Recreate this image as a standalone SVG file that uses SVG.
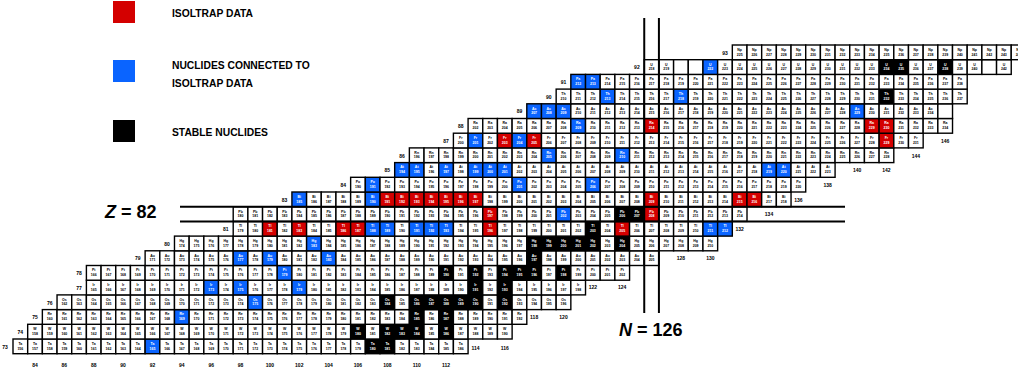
<svg xmlns="http://www.w3.org/2000/svg" width="1018" height="372" viewBox="0 0 1018 372">
<style>
.cells rect{x:-7.34px;width:14.68px;height:14.7px;fill:#fff;stroke:#000;stroke-width:1.4px}
.cells text{font-family:"Liberation Sans",Arial,sans-serif;font-weight:bold;font-size:3.5px;text-anchor:middle;fill:#000}
.cells .r rect{fill:#d40000}
.cells .b rect{fill:#0a64ff}
.cells .k rect{fill:#000}
.cells .r text,.cells .b text,.cells .k text{fill:#fff}
.lbl text{font-family:"Liberation Sans",Arial,sans-serif;font-weight:bold;font-size:5px;text-anchor:middle;fill:#000}
.leg text{font-family:"Liberation Sans",Arial,sans-serif;font-weight:bold;font-size:10.3px;fill:#000}
.big{font-family:"Liberation Sans",Arial,sans-serif;font-weight:bold;font-size:18px;fill:#000}
.magic line{stroke:#000;stroke-width:2}
</style>
<rect width="1018" height="372" fill="#fff"/>
<g id="legend" class="leg">
<rect x="113" y="1" width="22" height="22" fill="#d40000"/>
<text x="172" y="17">ISOLTRAP DATA</text>
<rect x="113" y="60" width="22" height="22" fill="#0a64ff"/>
<text x="172" y="69">NUCLIDES CONNECTED TO</text>
<text x="172" y="87">ISOLTRAP DATA</text>
<rect x="113" y="120" width="22" height="22" fill="#000"/>
<text x="172" y="136">STABLE NUCLIDES</text>
</g>
<g id="chart" class="cells">
<g id="z73" transform="translate(0,339)">
<g transform="translate(20.34)"><rect/><text y="5.9">Ta</text><text y="10.6">156</text></g>
<g transform="translate(35.02)"><rect/><text y="5.9">Ta</text><text y="10.6">157</text></g>
<g transform="translate(49.70)"><rect/><text y="5.9">Ta</text><text y="10.6">158</text></g>
<g transform="translate(64.38)"><rect/><text y="5.9">Ta</text><text y="10.6">159</text></g>
<g transform="translate(79.06)"><rect/><text y="5.9">Ta</text><text y="10.6">160</text></g>
<g transform="translate(93.74)"><rect/><text y="5.9">Ta</text><text y="10.6">161</text></g>
<g transform="translate(108.42)"><rect/><text y="5.9">Ta</text><text y="10.6">162</text></g>
<g transform="translate(123.10)"><rect/><text y="5.9">Ta</text><text y="10.6">163</text></g>
<g transform="translate(137.78)"><rect/><text y="5.9">Ta</text><text y="10.6">164</text></g>
<g class="b" transform="translate(152.46)"><rect/><text y="5.9">Ta</text><text y="10.6">165</text></g>
<g transform="translate(167.14)"><rect/><text y="5.9">Ta</text><text y="10.6">166</text></g>
<g transform="translate(181.82)"><rect/><text y="5.9">Ta</text><text y="10.6">167</text></g>
<g transform="translate(196.50)"><rect/><text y="5.9">Ta</text><text y="10.6">168</text></g>
<g transform="translate(211.18)"><rect/><text y="5.9">Ta</text><text y="10.6">169</text></g>
<g transform="translate(225.86)"><rect/><text y="5.9">Ta</text><text y="10.6">170</text></g>
<g transform="translate(240.54)"><rect/><text y="5.9">Ta</text><text y="10.6">171</text></g>
<g transform="translate(255.22)"><rect/><text y="5.9">Ta</text><text y="10.6">172</text></g>
<g transform="translate(269.90)"><rect/><text y="5.9">Ta</text><text y="10.6">173</text></g>
<g transform="translate(284.58)"><rect/><text y="5.9">Ta</text><text y="10.6">174</text></g>
<g transform="translate(299.26)"><rect/><text y="5.9">Ta</text><text y="10.6">175</text></g>
<g transform="translate(313.94)"><rect/><text y="5.9">Ta</text><text y="10.6">176</text></g>
<g transform="translate(328.62)"><rect/><text y="5.9">Ta</text><text y="10.6">177</text></g>
<g transform="translate(343.30)"><rect/><text y="5.9">Ta</text><text y="10.6">178</text></g>
<g transform="translate(357.98)"><rect/><text y="5.9">Ta</text><text y="10.6">179</text></g>
<g class="k" transform="translate(372.66)"><rect/><text y="5.9">Ta</text><text y="10.6">180</text></g>
<g class="k" transform="translate(387.34)"><rect/><text y="5.9">Ta</text><text y="10.6">181</text></g>
<g transform="translate(402.02)"><rect/><text y="5.9">Ta</text><text y="10.6">182</text></g>
<g transform="translate(416.70)"><rect/><text y="5.9">Ta</text><text y="10.6">183</text></g>
<g transform="translate(431.38)"><rect/><text y="5.9">Ta</text><text y="10.6">184</text></g>
<g transform="translate(446.06)"><rect/><text y="5.9">Ta</text><text y="10.6">185</text></g>
<g transform="translate(460.74)"><rect/><text y="5.9">Ta</text><text y="10.6">186</text></g>
</g>
<g id="z74" transform="translate(0,324.3)">
<g transform="translate(35.02)"><rect/><text y="5.9">W</text><text y="10.6">158</text></g>
<g transform="translate(49.70)"><rect/><text y="5.9">W</text><text y="10.6">159</text></g>
<g transform="translate(64.38)"><rect/><text y="5.9">W</text><text y="10.6">160</text></g>
<g transform="translate(79.06)"><rect/><text y="5.9">W</text><text y="10.6">161</text></g>
<g transform="translate(93.74)"><rect/><text y="5.9">W</text><text y="10.6">162</text></g>
<g transform="translate(108.42)"><rect/><text y="5.9">W</text><text y="10.6">163</text></g>
<g transform="translate(123.10)"><rect/><text y="5.9">W</text><text y="10.6">164</text></g>
<g transform="translate(137.78)"><rect/><text y="5.9">W</text><text y="10.6">165</text></g>
<g transform="translate(152.46)"><rect/><text y="5.9">W</text><text y="10.6">166</text></g>
<g transform="translate(167.14)"><rect/><text y="5.9">W</text><text y="10.6">167</text></g>
<g transform="translate(181.82)"><rect/><text y="5.9">W</text><text y="10.6">168</text></g>
<g transform="translate(196.50)"><rect/><text y="5.9">W</text><text y="10.6">169</text></g>
<g transform="translate(211.18)"><rect/><text y="5.9">W</text><text y="10.6">170</text></g>
<g transform="translate(225.86)"><rect/><text y="5.9">W</text><text y="10.6">171</text></g>
<g transform="translate(240.54)"><rect/><text y="5.9">W</text><text y="10.6">172</text></g>
<g transform="translate(255.22)"><rect/><text y="5.9">W</text><text y="10.6">173</text></g>
<g transform="translate(269.90)"><rect/><text y="5.9">W</text><text y="10.6">174</text></g>
<g transform="translate(284.58)"><rect/><text y="5.9">W</text><text y="10.6">175</text></g>
<g transform="translate(299.26)"><rect/><text y="5.9">W</text><text y="10.6">176</text></g>
<g transform="translate(313.94)"><rect/><text y="5.9">W</text><text y="10.6">177</text></g>
<g transform="translate(328.62)"><rect/><text y="5.9">W</text><text y="10.6">178</text></g>
<g transform="translate(343.30)"><rect/><text y="5.9">W</text><text y="10.6">179</text></g>
<g class="k" transform="translate(357.98)"><rect/><text y="5.9">W</text><text y="10.6">180</text></g>
<g transform="translate(372.66)"><rect/><text y="5.9">W</text><text y="10.6">181</text></g>
<g class="k" transform="translate(387.34)"><rect/><text y="5.9">W</text><text y="10.6">182</text></g>
<g class="k" transform="translate(402.02)"><rect/><text y="5.9">W</text><text y="10.6">183</text></g>
<g class="k" transform="translate(416.70)"><rect/><text y="5.9">W</text><text y="10.6">184</text></g>
<g transform="translate(431.38)"><rect/><text y="5.9">W</text><text y="10.6">185</text></g>
<g class="k" transform="translate(446.06)"><rect/><text y="5.9">W</text><text y="10.6">186</text></g>
<g transform="translate(460.74)"><rect/><text y="5.9">W</text><text y="10.6">187</text></g>
<g transform="translate(475.42)"><rect/><text y="5.9">W</text><text y="10.6">188</text></g>
<g transform="translate(490.10)"><rect/><text y="5.9">W</text><text y="10.6">189</text></g>
<g transform="translate(504.78)"><rect/><text y="5.9">W</text><text y="10.6">190</text></g>
</g>
<g id="z75" transform="translate(0,309.6)">
<g transform="translate(49.70)"><rect/><text y="5.9">Re</text><text y="10.6">160</text></g>
<g transform="translate(64.38)"><rect/><text y="5.9">Re</text><text y="10.6">161</text></g>
<g transform="translate(79.06)"><rect/><text y="5.9">Re</text><text y="10.6">162</text></g>
<g transform="translate(93.74)"><rect/><text y="5.9">Re</text><text y="10.6">163</text></g>
<g transform="translate(108.42)"><rect/><text y="5.9">Re</text><text y="10.6">164</text></g>
<g transform="translate(123.10)"><rect/><text y="5.9">Re</text><text y="10.6">165</text></g>
<g transform="translate(137.78)"><rect/><text y="5.9">Re</text><text y="10.6">166</text></g>
<g transform="translate(152.46)"><rect/><text y="5.9">Re</text><text y="10.6">167</text></g>
<g transform="translate(167.14)"><rect/><text y="5.9">Re</text><text y="10.6">168</text></g>
<g class="b" transform="translate(181.82)"><rect/><text y="5.9">Re</text><text y="10.6">169</text></g>
<g transform="translate(196.50)"><rect/><text y="5.9">Re</text><text y="10.6">170</text></g>
<g transform="translate(211.18)"><rect/><text y="5.9">Re</text><text y="10.6">171</text></g>
<g transform="translate(225.86)"><rect/><text y="5.9">Re</text><text y="10.6">172</text></g>
<g transform="translate(240.54)"><rect/><text y="5.9">Re</text><text y="10.6">173</text></g>
<g transform="translate(255.22)"><rect/><text y="5.9">Re</text><text y="10.6">174</text></g>
<g transform="translate(269.90)"><rect/><text y="5.9">Re</text><text y="10.6">175</text></g>
<g transform="translate(284.58)"><rect/><text y="5.9">Re</text><text y="10.6">176</text></g>
<g transform="translate(299.26)"><rect/><text y="5.9">Re</text><text y="10.6">177</text></g>
<g transform="translate(313.94)"><rect/><text y="5.9">Re</text><text y="10.6">178</text></g>
<g transform="translate(328.62)"><rect/><text y="5.9">Re</text><text y="10.6">179</text></g>
<g transform="translate(343.30)"><rect/><text y="5.9">Re</text><text y="10.6">180</text></g>
<g transform="translate(357.98)"><rect/><text y="5.9">Re</text><text y="10.6">181</text></g>
<g transform="translate(372.66)"><rect/><text y="5.9">Re</text><text y="10.6">182</text></g>
<g transform="translate(387.34)"><rect/><text y="5.9">Re</text><text y="10.6">183</text></g>
<g transform="translate(402.02)"><rect/><text y="5.9">Re</text><text y="10.6">184</text></g>
<g class="k" transform="translate(416.70)"><rect/><text y="5.9">Re</text><text y="10.6">185</text></g>
<g transform="translate(431.38)"><rect/><text y="5.9">Re</text><text y="10.6">186</text></g>
<g class="k" transform="translate(446.06)"><rect/><text y="5.9">Re</text><text y="10.6">187</text></g>
<g transform="translate(460.74)"><rect/><text y="5.9">Re</text><text y="10.6">188</text></g>
<g transform="translate(475.42)"><rect/><text y="5.9">Re</text><text y="10.6">189</text></g>
<g transform="translate(490.10)"><rect/><text y="5.9">Re</text><text y="10.6">190</text></g>
<g transform="translate(504.78)"><rect/><text y="5.9">Re</text><text y="10.6">191</text></g>
<g transform="translate(519.46)"><rect/><text y="5.9">Re</text><text y="10.6">192</text></g>
</g>
<g id="z76" transform="translate(0,294.9)">
<g transform="translate(64.38)"><rect/><text y="5.9">Os</text><text y="10.6">162</text></g>
<g transform="translate(79.06)"><rect/><text y="5.9">Os</text><text y="10.6">163</text></g>
<g transform="translate(93.74)"><rect/><text y="5.9">Os</text><text y="10.6">164</text></g>
<g transform="translate(108.42)"><rect/><text y="5.9">Os</text><text y="10.6">165</text></g>
<g transform="translate(123.10)"><rect/><text y="5.9">Os</text><text y="10.6">166</text></g>
<g transform="translate(137.78)"><rect/><text y="5.9">Os</text><text y="10.6">167</text></g>
<g transform="translate(152.46)"><rect/><text y="5.9">Os</text><text y="10.6">168</text></g>
<g transform="translate(167.14)"><rect/><text y="5.9">Os</text><text y="10.6">169</text></g>
<g transform="translate(181.82)"><rect/><text y="5.9">Os</text><text y="10.6">170</text></g>
<g transform="translate(196.50)"><rect/><text y="5.9">Os</text><text y="10.6">171</text></g>
<g transform="translate(211.18)"><rect/><text y="5.9">Os</text><text y="10.6">172</text></g>
<g transform="translate(225.86)"><rect/><text y="5.9">Os</text><text y="10.6">173</text></g>
<g transform="translate(240.54)"><rect/><text y="5.9">Os</text><text y="10.6">174</text></g>
<g class="b" transform="translate(255.22)"><rect/><text y="5.9">Os</text><text y="10.6">175</text></g>
<g transform="translate(269.90)"><rect/><text y="5.9">Os</text><text y="10.6">176</text></g>
<g transform="translate(284.58)"><rect/><text y="5.9">Os</text><text y="10.6">177</text></g>
<g transform="translate(299.26)"><rect/><text y="5.9">Os</text><text y="10.6">178</text></g>
<g transform="translate(313.94)"><rect/><text y="5.9">Os</text><text y="10.6">179</text></g>
<g transform="translate(328.62)"><rect/><text y="5.9">Os</text><text y="10.6">180</text></g>
<g transform="translate(343.30)"><rect/><text y="5.9">Os</text><text y="10.6">181</text></g>
<g transform="translate(357.98)"><rect/><text y="5.9">Os</text><text y="10.6">182</text></g>
<g transform="translate(372.66)"><rect/><text y="5.9">Os</text><text y="10.6">183</text></g>
<g class="k" transform="translate(387.34)"><rect/><text y="5.9">Os</text><text y="10.6">184</text></g>
<g transform="translate(402.02)"><rect/><text y="5.9">Os</text><text y="10.6">185</text></g>
<g class="k" transform="translate(416.70)"><rect/><text y="5.9">Os</text><text y="10.6">186</text></g>
<g class="k" transform="translate(431.38)"><rect/><text y="5.9">Os</text><text y="10.6">187</text></g>
<g class="k" transform="translate(446.06)"><rect/><text y="5.9">Os</text><text y="10.6">188</text></g>
<g class="k" transform="translate(460.74)"><rect/><text y="5.9">Os</text><text y="10.6">189</text></g>
<g class="k" transform="translate(475.42)"><rect/><text y="5.9">Os</text><text y="10.6">190</text></g>
<g transform="translate(490.10)"><rect/><text y="5.9">Os</text><text y="10.6">191</text></g>
<g class="k" transform="translate(504.78)"><rect/><text y="5.9">Os</text><text y="10.6">192</text></g>
<g transform="translate(519.46)"><rect/><text y="5.9">Os</text><text y="10.6">193</text></g>
<g transform="translate(534.14)"><rect/><text y="5.9">Os</text><text y="10.6">194</text></g>
<g transform="translate(548.82)"><rect/><text y="5.9">Os</text><text y="10.6">195</text></g>
<g transform="translate(563.50)"><rect/><text y="5.9">Os</text><text y="10.6">196</text></g>
</g>
<g id="z77" transform="translate(0,280.2)">
<g transform="translate(93.74)"><rect/><text y="5.9">Ir</text><text y="10.6">165</text></g>
<g transform="translate(108.42)"><rect/><text y="5.9">Ir</text><text y="10.6">166</text></g>
<g transform="translate(123.10)"><rect/><text y="5.9">Ir</text><text y="10.6">167</text></g>
<g transform="translate(137.78)"><rect/><text y="5.9">Ir</text><text y="10.6">168</text></g>
<g transform="translate(152.46)"><rect/><text y="5.9">Ir</text><text y="10.6">169</text></g>
<g transform="translate(167.14)"><rect/><text y="5.9">Ir</text><text y="10.6">170</text></g>
<g transform="translate(181.82)"><rect/><text y="5.9">Ir</text><text y="10.6">171</text></g>
<g transform="translate(196.50)"><rect/><text y="5.9">Ir</text><text y="10.6">172</text></g>
<g class="b" transform="translate(211.18)"><rect/><text y="5.9">Ir</text><text y="10.6">173</text></g>
<g transform="translate(225.86)"><rect/><text y="5.9">Ir</text><text y="10.6">174</text></g>
<g class="b" transform="translate(240.54)"><rect/><text y="5.9">Ir</text><text y="10.6">175</text></g>
<g transform="translate(255.22)"><rect/><text y="5.9">Ir</text><text y="10.6">176</text></g>
<g transform="translate(269.90)"><rect/><text y="5.9">Ir</text><text y="10.6">177</text></g>
<g transform="translate(284.58)"><rect/><text y="5.9">Ir</text><text y="10.6">178</text></g>
<g class="b" transform="translate(299.26)"><rect/><text y="5.9">Ir</text><text y="10.6">179</text></g>
<g transform="translate(313.94)"><rect/><text y="5.9">Ir</text><text y="10.6">180</text></g>
<g transform="translate(328.62)"><rect/><text y="5.9">Ir</text><text y="10.6">181</text></g>
<g transform="translate(343.30)"><rect/><text y="5.9">Ir</text><text y="10.6">182</text></g>
<g transform="translate(357.98)"><rect/><text y="5.9">Ir</text><text y="10.6">183</text></g>
<g transform="translate(372.66)"><rect/><text y="5.9">Ir</text><text y="10.6">184</text></g>
<g transform="translate(387.34)"><rect/><text y="5.9">Ir</text><text y="10.6">185</text></g>
<g transform="translate(402.02)"><rect/><text y="5.9">Ir</text><text y="10.6">186</text></g>
<g transform="translate(416.70)"><rect/><text y="5.9">Ir</text><text y="10.6">187</text></g>
<g transform="translate(431.38)"><rect/><text y="5.9">Ir</text><text y="10.6">188</text></g>
<g transform="translate(446.06)"><rect/><text y="5.9">Ir</text><text y="10.6">189</text></g>
<g transform="translate(460.74)"><rect/><text y="5.9">Ir</text><text y="10.6">190</text></g>
<g class="k" transform="translate(475.42)"><rect/><text y="5.9">Ir</text><text y="10.6">191</text></g>
<g transform="translate(490.10)"><rect/><text y="5.9">Ir</text><text y="10.6">192</text></g>
<g class="k" transform="translate(504.78)"><rect/><text y="5.9">Ir</text><text y="10.6">193</text></g>
<g transform="translate(519.46)"><rect/><text y="5.9">Ir</text><text y="10.6">194</text></g>
<g transform="translate(534.14)"><rect/><text y="5.9">Ir</text><text y="10.6">195</text></g>
<g transform="translate(548.82)"><rect/><text y="5.9">Ir</text><text y="10.6">196</text></g>
<g transform="translate(563.50)"><rect/><text y="5.9">Ir</text><text y="10.6">197</text></g>
<g transform="translate(578.18)"><rect/><text y="5.9">Ir</text><text y="10.6">198</text></g>
</g>
<g id="z78" transform="translate(0,265.5)">
<g transform="translate(93.74)"><rect/><text y="5.9">Pt</text><text y="10.6">166</text></g>
<g transform="translate(108.42)"><rect/><text y="5.9">Pt</text><text y="10.6">167</text></g>
<g transform="translate(123.10)"><rect/><text y="5.9">Pt</text><text y="10.6">168</text></g>
<g transform="translate(137.78)"><rect/><text y="5.9">Pt</text><text y="10.6">169</text></g>
<g transform="translate(152.46)"><rect/><text y="5.9">Pt</text><text y="10.6">170</text></g>
<g transform="translate(167.14)"><rect/><text y="5.9">Pt</text><text y="10.6">171</text></g>
<g transform="translate(181.82)"><rect/><text y="5.9">Pt</text><text y="10.6">172</text></g>
<g transform="translate(196.50)"><rect/><text y="5.9">Pt</text><text y="10.6">173</text></g>
<g transform="translate(211.18)"><rect/><text y="5.9">Pt</text><text y="10.6">174</text></g>
<g transform="translate(225.86)"><rect/><text y="5.9">Pt</text><text y="10.6">175</text></g>
<g transform="translate(240.54)"><rect/><text y="5.9">Pt</text><text y="10.6">176</text></g>
<g transform="translate(255.22)"><rect/><text y="5.9">Pt</text><text y="10.6">177</text></g>
<g transform="translate(269.90)"><rect/><text y="5.9">Pt</text><text y="10.6">178</text></g>
<g class="b" transform="translate(284.58)"><rect/><text y="5.9">Pt</text><text y="10.6">179</text></g>
<g transform="translate(299.26)"><rect/><text y="5.9">Pt</text><text y="10.6">180</text></g>
<g transform="translate(313.94)"><rect/><text y="5.9">Pt</text><text y="10.6">181</text></g>
<g transform="translate(328.62)"><rect/><text y="5.9">Pt</text><text y="10.6">182</text></g>
<g transform="translate(343.30)"><rect/><text y="5.9">Pt</text><text y="10.6">183</text></g>
<g transform="translate(357.98)"><rect/><text y="5.9">Pt</text><text y="10.6">184</text></g>
<g transform="translate(372.66)"><rect/><text y="5.9">Pt</text><text y="10.6">185</text></g>
<g transform="translate(387.34)"><rect/><text y="5.9">Pt</text><text y="10.6">186</text></g>
<g transform="translate(402.02)"><rect/><text y="5.9">Pt</text><text y="10.6">187</text></g>
<g transform="translate(416.70)"><rect/><text y="5.9">Pt</text><text y="10.6">188</text></g>
<g transform="translate(431.38)"><rect/><text y="5.9">Pt</text><text y="10.6">189</text></g>
<g class="k" transform="translate(446.06)"><rect/><text y="5.9">Pt</text><text y="10.6">190</text></g>
<g transform="translate(460.74)"><rect/><text y="5.9">Pt</text><text y="10.6">191</text></g>
<g class="k" transform="translate(475.42)"><rect/><text y="5.9">Pt</text><text y="10.6">192</text></g>
<g transform="translate(490.10)"><rect/><text y="5.9">Pt</text><text y="10.6">193</text></g>
<g class="k" transform="translate(504.78)"><rect/><text y="5.9">Pt</text><text y="10.6">194</text></g>
<g class="k" transform="translate(519.46)"><rect/><text y="5.9">Pt</text><text y="10.6">195</text></g>
<g class="k" transform="translate(534.14)"><rect/><text y="5.9">Pt</text><text y="10.6">196</text></g>
<g transform="translate(548.82)"><rect/><text y="5.9">Pt</text><text y="10.6">197</text></g>
<g class="k" transform="translate(563.50)"><rect/><text y="5.9">Pt</text><text y="10.6">198</text></g>
<g transform="translate(578.18)"><rect/><text y="5.9">Pt</text><text y="10.6">199</text></g>
<g transform="translate(592.86)"><rect/><text y="5.9">Pt</text><text y="10.6">200</text></g>
<g transform="translate(607.54)"><rect/><text y="5.9">Pt</text><text y="10.6">201</text></g>
<g transform="translate(622.22)"><rect/><text y="5.9">Pt</text><text y="10.6">202</text></g>
</g>
<g id="z79" transform="translate(0,250.8)">
<g transform="translate(152.46)"><rect/><text y="5.9">Au</text><text y="10.6">171</text></g>
<g transform="translate(167.14)"><rect/><text y="5.9">Au</text><text y="10.6">172</text></g>
<g transform="translate(181.82)"><rect/><text y="5.9">Au</text><text y="10.6">173</text></g>
<g transform="translate(196.50)"><rect/><text y="5.9">Au</text><text y="10.6">174</text></g>
<g transform="translate(211.18)"><rect/><text y="5.9">Au</text><text y="10.6">175</text></g>
<g transform="translate(225.86)"><rect/><text y="5.9">Au</text><text y="10.6">176</text></g>
<g class="b" transform="translate(240.54)"><rect/><text y="5.9">Au</text><text y="10.6">177</text></g>
<g transform="translate(255.22)"><rect/><text y="5.9">Au</text><text y="10.6">178</text></g>
<g class="b" transform="translate(269.90)"><rect/><text y="5.9">Au</text><text y="10.6">179</text></g>
<g transform="translate(284.58)"><rect/><text y="5.9">Au</text><text y="10.6">180</text></g>
<g transform="translate(299.26)"><rect/><text y="5.9">Au</text><text y="10.6">181</text></g>
<g transform="translate(313.94)"><rect/><text y="5.9">Au</text><text y="10.6">182</text></g>
<g class="b" transform="translate(328.62)"><rect/><text y="5.9">Au</text><text y="10.6">183</text></g>
<g transform="translate(343.30)"><rect/><text y="5.9">Au</text><text y="10.6">184</text></g>
<g transform="translate(357.98)"><rect/><text y="5.9">Au</text><text y="10.6">185</text></g>
<g transform="translate(372.66)"><rect/><text y="5.9">Au</text><text y="10.6">186</text></g>
<g transform="translate(387.34)"><rect/><text y="5.9">Au</text><text y="10.6">187</text></g>
<g transform="translate(402.02)"><rect/><text y="5.9">Au</text><text y="10.6">188</text></g>
<g transform="translate(416.70)"><rect/><text y="5.9">Au</text><text y="10.6">189</text></g>
<g transform="translate(431.38)"><rect/><text y="5.9">Au</text><text y="10.6">190</text></g>
<g transform="translate(446.06)"><rect/><text y="5.9">Au</text><text y="10.6">191</text></g>
<g transform="translate(460.74)"><rect/><text y="5.9">Au</text><text y="10.6">192</text></g>
<g transform="translate(475.42)"><rect/><text y="5.9">Au</text><text y="10.6">193</text></g>
<g transform="translate(490.10)"><rect/><text y="5.9">Au</text><text y="10.6">194</text></g>
<g transform="translate(504.78)"><rect/><text y="5.9">Au</text><text y="10.6">195</text></g>
<g transform="translate(519.46)"><rect/><text y="5.9">Au</text><text y="10.6">196</text></g>
<g class="k" transform="translate(534.14)"><rect/><text y="5.9">Au</text><text y="10.6">197</text></g>
<g transform="translate(548.82)"><rect/><text y="5.9">Au</text><text y="10.6">198</text></g>
<g transform="translate(563.50)"><rect/><text y="5.9">Au</text><text y="10.6">199</text></g>
<g transform="translate(578.18)"><rect/><text y="5.9">Au</text><text y="10.6">200</text></g>
<g transform="translate(592.86)"><rect/><text y="5.9">Au</text><text y="10.6">201</text></g>
<g transform="translate(607.54)"><rect/><text y="5.9">Au</text><text y="10.6">202</text></g>
<g transform="translate(622.22)"><rect/><text y="5.9">Au</text><text y="10.6">203</text></g>
<g transform="translate(636.90)"><rect/><text y="5.9">Au</text><text y="10.6">204</text></g>
<g transform="translate(651.58)"><rect/><text y="5.9">Au</text><text y="10.6">205</text></g>
</g>
<g id="z80" transform="translate(0,236.1)">
<g transform="translate(181.82)"><rect/><text y="5.9">Hg</text><text y="10.6">174</text></g>
<g transform="translate(196.50)"><rect/><text y="5.9">Hg</text><text y="10.6">175</text></g>
<g transform="translate(211.18)"><rect/><text y="5.9">Hg</text><text y="10.6">176</text></g>
<g transform="translate(225.86)"><rect/><text y="5.9">Hg</text><text y="10.6">177</text></g>
<g transform="translate(240.54)"><rect/><text y="5.9">Hg</text><text y="10.6">178</text></g>
<g transform="translate(255.22)"><rect/><text y="5.9">Hg</text><text y="10.6">179</text></g>
<g transform="translate(269.90)"><rect/><text y="5.9">Hg</text><text y="10.6">180</text></g>
<g transform="translate(284.58)"><rect/><text y="5.9">Hg</text><text y="10.6">181</text></g>
<g transform="translate(299.26)"><rect/><text y="5.9">Hg</text><text y="10.6">182</text></g>
<g class="b" transform="translate(313.94)"><rect/><text y="5.9">Hg</text><text y="10.6">183</text></g>
<g transform="translate(328.62)"><rect/><text y="5.9">Hg</text><text y="10.6">184</text></g>
<g transform="translate(343.30)"><rect/><text y="5.9">Hg</text><text y="10.6">185</text></g>
<g transform="translate(357.98)"><rect/><text y="5.9">Hg</text><text y="10.6">186</text></g>
<g transform="translate(372.66)"><rect/><text y="5.9">Hg</text><text y="10.6">187</text></g>
<g transform="translate(387.34)"><rect/><text y="5.9">Hg</text><text y="10.6">188</text></g>
<g transform="translate(402.02)"><rect/><text y="5.9">Hg</text><text y="10.6">189</text></g>
<g transform="translate(416.70)"><rect/><text y="5.9">Hg</text><text y="10.6">190</text></g>
<g transform="translate(431.38)"><rect/><text y="5.9">Hg</text><text y="10.6">191</text></g>
<g transform="translate(446.06)"><rect/><text y="5.9">Hg</text><text y="10.6">192</text></g>
<g transform="translate(460.74)"><rect/><text y="5.9">Hg</text><text y="10.6">193</text></g>
<g transform="translate(475.42)"><rect/><text y="5.9">Hg</text><text y="10.6">194</text></g>
<g transform="translate(490.10)"><rect/><text y="5.9">Hg</text><text y="10.6">195</text></g>
<g transform="translate(504.78)"><rect/><text y="5.9">Hg</text><text y="10.6">196</text></g>
<g transform="translate(519.46)"><rect/><text y="5.9">Hg</text><text y="10.6">197</text></g>
<g class="k" transform="translate(534.14)"><rect/><text y="5.9">Hg</text><text y="10.6">198</text></g>
<g class="k" transform="translate(548.82)"><rect/><text y="5.9">Hg</text><text y="10.6">199</text></g>
<g class="k" transform="translate(563.50)"><rect/><text y="5.9">Hg</text><text y="10.6">200</text></g>
<g class="k" transform="translate(578.18)"><rect/><text y="5.9">Hg</text><text y="10.6">201</text></g>
<g class="k" transform="translate(592.86)"><rect/><text y="5.9">Hg</text><text y="10.6">202</text></g>
<g transform="translate(607.54)"><rect/><text y="5.9">Hg</text><text y="10.6">203</text></g>
<g class="k" transform="translate(622.22)"><rect/><text y="5.9">Hg</text><text y="10.6">204</text></g>
<g transform="translate(636.90)"><rect/><text y="5.9">Hg</text><text y="10.6">205</text></g>
<g transform="translate(651.58)"><rect/><text y="5.9">Hg</text><text y="10.6">206</text></g>
<g transform="translate(666.26)"><rect/><text y="5.9">Hg</text><text y="10.6">207</text></g>
<g transform="translate(680.94)"><rect/><text y="5.9">Hg</text><text y="10.6">208</text></g>
<g transform="translate(695.62)"><rect/><text y="5.9">Hg</text><text y="10.6">209</text></g>
<g transform="translate(710.30)"><rect/><text y="5.9">Hg</text><text y="10.6">210</text></g>
</g>
<g id="z81" transform="translate(0,221.4)">
<g transform="translate(240.54)"><rect/><text y="5.9">Tl</text><text y="10.6">179</text></g>
<g transform="translate(255.22)"><rect/><text y="5.9">Tl</text><text y="10.6">180</text></g>
<g class="r" transform="translate(269.90)"><rect/><text y="5.9">Tl</text><text y="10.6">181</text></g>
<g transform="translate(284.58)"><rect/><text y="5.9">Tl</text><text y="10.6">182</text></g>
<g class="r" transform="translate(299.26)"><rect/><text y="5.9">Tl</text><text y="10.6">183</text></g>
<g transform="translate(313.94)"><rect/><text y="5.9">Tl</text><text y="10.6">184</text></g>
<g transform="translate(328.62)"><rect/><text y="5.9">Tl</text><text y="10.6">185</text></g>
<g class="r" transform="translate(343.30)"><rect/><text y="5.9">Tl</text><text y="10.6">186</text></g>
<g class="r" transform="translate(357.98)"><rect/><text y="5.9">Tl</text><text y="10.6">187</text></g>
<g class="b" transform="translate(372.66)"><rect/><text y="5.9">Tl</text><text y="10.6">188</text></g>
<g class="b" transform="translate(387.34)"><rect/><text y="5.9">Tl</text><text y="10.6">189</text></g>
<g transform="translate(402.02)"><rect/><text y="5.9">Tl</text><text y="10.6">190</text></g>
<g class="b" transform="translate(416.70)"><rect/><text y="5.9">Tl</text><text y="10.6">191</text></g>
<g class="b" transform="translate(431.38)"><rect/><text y="5.9">Tl</text><text y="10.6">192</text></g>
<g class="b" transform="translate(446.06)"><rect/><text y="5.9">Tl</text><text y="10.6">193</text></g>
<g transform="translate(460.74)"><rect/><text y="5.9">Tl</text><text y="10.6">194</text></g>
<g transform="translate(475.42)"><rect/><text y="5.9">Tl</text><text y="10.6">195</text></g>
<g class="r" transform="translate(490.10)"><rect/><text y="5.9">Tl</text><text y="10.6">196</text></g>
<g transform="translate(504.78)"><rect/><text y="5.9">Tl</text><text y="10.6">197</text></g>
<g transform="translate(519.46)"><rect/><text y="5.9">Tl</text><text y="10.6">198</text></g>
<g transform="translate(534.14)"><rect/><text y="5.9">Tl</text><text y="10.6">199</text></g>
<g transform="translate(548.82)"><rect/><text y="5.9">Tl</text><text y="10.6">200</text></g>
<g transform="translate(563.50)"><rect/><text y="5.9">Tl</text><text y="10.6">201</text></g>
<g transform="translate(578.18)"><rect/><text y="5.9">Tl</text><text y="10.6">202</text></g>
<g class="k" transform="translate(592.86)"><rect/><text y="5.9">Tl</text><text y="10.6">203</text></g>
<g transform="translate(607.54)"><rect/><text y="5.9">Tl</text><text y="10.6">204</text></g>
<g class="r" transform="translate(622.22)"><rect/><text y="5.9">Tl</text><text y="10.6">205</text></g>
<g transform="translate(636.90)"><rect/><text y="5.9">Tl</text><text y="10.6">206</text></g>
<g transform="translate(651.58)"><rect/><text y="5.9">Tl</text><text y="10.6">207</text></g>
<g transform="translate(666.26)"><rect/><text y="5.9">Tl</text><text y="10.6">208</text></g>
<g transform="translate(680.94)"><rect/><text y="5.9">Tl</text><text y="10.6">209</text></g>
<g transform="translate(695.62)"><rect/><text y="5.9">Tl</text><text y="10.6">210</text></g>
<g class="b" transform="translate(710.30)"><rect/><text y="5.9">Tl</text><text y="10.6">211</text></g>
<g class="b" transform="translate(724.98)"><rect/><text y="5.9">Tl</text><text y="10.6">212</text></g>
</g>
<g id="z82" transform="translate(0,206.7)">
<g transform="translate(240.54)"><rect/><text y="5.9">Pb</text><text y="10.6">180</text></g>
<g transform="translate(255.22)"><rect/><text y="5.9">Pb</text><text y="10.6">181</text></g>
<g transform="translate(269.90)"><rect/><text y="5.9">Pb</text><text y="10.6">182</text></g>
<g transform="translate(284.58)"><rect/><text y="5.9">Pb</text><text y="10.6">183</text></g>
<g transform="translate(299.26)"><rect/><text y="5.9">Pb</text><text y="10.6">184</text></g>
<g transform="translate(313.94)"><rect/><text y="5.9">Pb</text><text y="10.6">185</text></g>
<g transform="translate(328.62)"><rect/><text y="5.9">Pb</text><text y="10.6">186</text></g>
<g transform="translate(343.30)"><rect/><text y="5.9">Pb</text><text y="10.6">187</text></g>
<g transform="translate(357.98)"><rect/><text y="5.9">Pb</text><text y="10.6">188</text></g>
<g transform="translate(372.66)"><rect/><text y="5.9">Pb</text><text y="10.6">189</text></g>
<g transform="translate(387.34)"><rect/><text y="5.9">Pb</text><text y="10.6">190</text></g>
<g transform="translate(402.02)"><rect/><text y="5.9">Pb</text><text y="10.6">191</text></g>
<g transform="translate(416.70)"><rect/><text y="5.9">Pb</text><text y="10.6">192</text></g>
<g transform="translate(431.38)"><rect/><text y="5.9">Pb</text><text y="10.6">193</text></g>
<g transform="translate(446.06)"><rect/><text y="5.9">Pb</text><text y="10.6">194</text></g>
<g transform="translate(460.74)"><rect/><text y="5.9">Pb</text><text y="10.6">195</text></g>
<g transform="translate(475.42)"><rect/><text y="5.9">Pb</text><text y="10.6">196</text></g>
<g class="r" transform="translate(490.10)"><rect/><text y="5.9">Pb</text><text y="10.6">197</text></g>
<g transform="translate(504.78)"><rect/><text y="5.9">Pb</text><text y="10.6">198</text></g>
<g transform="translate(519.46)"><rect/><text y="5.9">Pb</text><text y="10.6">199</text></g>
<g transform="translate(534.14)"><rect/><text y="5.9">Pb</text><text y="10.6">200</text></g>
<g transform="translate(548.82)"><rect/><text y="5.9">Pb</text><text y="10.6">201</text></g>
<g class="b" transform="translate(563.50)"><rect/><text y="5.9">Pb</text><text y="10.6">202</text></g>
<g transform="translate(578.18)"><rect/><text y="5.9">Pb</text><text y="10.6">203</text></g>
<g transform="translate(592.86)"><rect/><text y="5.9">Pb</text><text y="10.6">204</text></g>
<g transform="translate(607.54)"><rect/><text y="5.9">Pb</text><text y="10.6">205</text></g>
<g class="k" transform="translate(622.22)"><rect/><text y="5.9">Pb</text><text y="10.6">206</text></g>
<g class="k" transform="translate(636.90)"><rect/><text y="5.9">Pb</text><text y="10.6">207</text></g>
<g class="r" transform="translate(651.58)"><rect/><text y="5.9">Pb</text><text y="10.6">208</text></g>
<g transform="translate(666.26)"><rect/><text y="5.9">Pb</text><text y="10.6">209</text></g>
<g transform="translate(680.94)"><rect/><text y="5.9">Pb</text><text y="10.6">210</text></g>
<g transform="translate(695.62)"><rect/><text y="5.9">Pb</text><text y="10.6">211</text></g>
<g transform="translate(710.30)"><rect/><text y="5.9">Pb</text><text y="10.6">212</text></g>
<g transform="translate(724.98)"><rect/><text y="5.9">Pb</text><text y="10.6">213</text></g>
<g transform="translate(739.66)"><rect/><text y="5.9">Pb</text><text y="10.6">214</text></g>
</g>
<g id="z83" transform="translate(0,192)">
<g class="b" transform="translate(299.26)"><rect/><text y="5.9">Bi</text><text y="10.6">185</text></g>
<g transform="translate(313.94)"><rect/><text y="5.9">Bi</text><text y="10.6">186</text></g>
<g transform="translate(328.62)"><rect/><text y="5.9">Bi</text><text y="10.6">187</text></g>
<g transform="translate(343.30)"><rect/><text y="5.9">Bi</text><text y="10.6">188</text></g>
<g transform="translate(357.98)"><rect/><text y="5.9">Bi</text><text y="10.6">189</text></g>
<g class="b" transform="translate(372.66)"><rect/><text y="5.9">Bi</text><text y="10.6">190</text></g>
<g class="r" transform="translate(387.34)"><rect/><text y="5.9">Bi</text><text y="10.6">191</text></g>
<g class="r" transform="translate(402.02)"><rect/><text y="5.9">Bi</text><text y="10.6">192</text></g>
<g class="r" transform="translate(416.70)"><rect/><text y="5.9">Bi</text><text y="10.6">193</text></g>
<g class="r" transform="translate(431.38)"><rect/><text y="5.9">Bi</text><text y="10.6">194</text></g>
<g class="r" transform="translate(446.06)"><rect/><text y="5.9">Bi</text><text y="10.6">195</text></g>
<g class="r" transform="translate(460.74)"><rect/><text y="5.9">Bi</text><text y="10.6">196</text></g>
<g class="r" transform="translate(475.42)"><rect/><text y="5.9">Bi</text><text y="10.6">197</text></g>
<g transform="translate(490.10)"><rect/><text y="5.9">Bi</text><text y="10.6">198</text></g>
<g transform="translate(504.78)"><rect/><text y="5.9">Bi</text><text y="10.6">199</text></g>
<g transform="translate(519.46)"><rect/><text y="5.9">Bi</text><text y="10.6">200</text></g>
<g transform="translate(534.14)"><rect/><text y="5.9">Bi</text><text y="10.6">201</text></g>
<g transform="translate(548.82)"><rect/><text y="5.9">Bi</text><text y="10.6">202</text></g>
<g transform="translate(563.50)"><rect/><text y="5.9">Bi</text><text y="10.6">203</text></g>
<g transform="translate(578.18)"><rect/><text y="5.9">Bi</text><text y="10.6">204</text></g>
<g transform="translate(592.86)"><rect/><text y="5.9">Bi</text><text y="10.6">205</text></g>
<g transform="translate(607.54)"><rect/><text y="5.9">Bi</text><text y="10.6">206</text></g>
<g transform="translate(622.22)"><rect/><text y="5.9">Bi</text><text y="10.6">207</text></g>
<g transform="translate(636.90)"><rect/><text y="5.9">Bi</text><text y="10.6">208</text></g>
<g class="r" transform="translate(651.58)"><rect/><text y="5.9">Bi</text><text y="10.6">209</text></g>
<g transform="translate(666.26)"><rect/><text y="5.9">Bi</text><text y="10.6">210</text></g>
<g transform="translate(680.94)"><rect/><text y="5.9">Bi</text><text y="10.6">211</text></g>
<g transform="translate(695.62)"><rect/><text y="5.9">Bi</text><text y="10.6">212</text></g>
<g transform="translate(710.30)"><rect/><text y="5.9">Bi</text><text y="10.6">213</text></g>
<g transform="translate(724.98)"><rect/><text y="5.9">Bi</text><text y="10.6">214</text></g>
<g class="r" transform="translate(739.66)"><rect/><text y="5.9">Bi</text><text y="10.6">215</text></g>
<g class="r" transform="translate(754.34)"><rect/><text y="5.9">Bi</text><text y="10.6">216</text></g>
<g transform="translate(769.02)"><rect/><text y="5.9">Bi</text><text y="10.6">217</text></g>
<g transform="translate(783.70)"><rect/><text y="5.9">Bi</text><text y="10.6">218</text></g>
</g>
<g id="z84" transform="translate(0,177.3)">
<g transform="translate(357.98)"><rect/><text y="5.9">Po</text><text y="10.6">190</text></g>
<g class="b" transform="translate(372.66)"><rect/><text y="5.9">Po</text><text y="10.6">191</text></g>
<g transform="translate(387.34)"><rect/><text y="5.9">Po</text><text y="10.6">192</text></g>
<g transform="translate(402.02)"><rect/><text y="5.9">Po</text><text y="10.6">193</text></g>
<g transform="translate(416.70)"><rect/><text y="5.9">Po</text><text y="10.6">194</text></g>
<g transform="translate(431.38)"><rect/><text y="5.9">Po</text><text y="10.6">195</text></g>
<g transform="translate(446.06)"><rect/><text y="5.9">Po</text><text y="10.6">196</text></g>
<g transform="translate(460.74)"><rect/><text y="5.9">Po</text><text y="10.6">197</text></g>
<g transform="translate(475.42)"><rect/><text y="5.9">Po</text><text y="10.6">198</text></g>
<g transform="translate(490.10)"><rect/><text y="5.9">Po</text><text y="10.6">199</text></g>
<g transform="translate(504.78)"><rect/><text y="5.9">Po</text><text y="10.6">200</text></g>
<g class="b" transform="translate(519.46)"><rect/><text y="5.9">Po</text><text y="10.6">201</text></g>
<g transform="translate(534.14)"><rect/><text y="5.9">Po</text><text y="10.6">202</text></g>
<g transform="translate(548.82)"><rect/><text y="5.9">Po</text><text y="10.6">203</text></g>
<g transform="translate(563.50)"><rect/><text y="5.9">Po</text><text y="10.6">204</text></g>
<g transform="translate(578.18)"><rect/><text y="5.9">Po</text><text y="10.6">205</text></g>
<g class="b" transform="translate(592.86)"><rect/><text y="5.9">Po</text><text y="10.6">206</text></g>
<g transform="translate(607.54)"><rect/><text y="5.9">Po</text><text y="10.6">207</text></g>
<g transform="translate(622.22)"><rect/><text y="5.9">Po</text><text y="10.6">208</text></g>
<g transform="translate(636.90)"><rect/><text y="5.9">Po</text><text y="10.6">209</text></g>
<g transform="translate(651.58)"><rect/><text y="5.9">Po</text><text y="10.6">210</text></g>
<g transform="translate(666.26)"><rect/><text y="5.9">Po</text><text y="10.6">211</text></g>
<g transform="translate(680.94)"><rect/><text y="5.9">Po</text><text y="10.6">212</text></g>
<g transform="translate(695.62)"><rect/><text y="5.9">Po</text><text y="10.6">213</text></g>
<g transform="translate(710.30)"><rect/><text y="5.9">Po</text><text y="10.6">214</text></g>
<g transform="translate(724.98)"><rect/><text y="5.9">Po</text><text y="10.6">215</text></g>
<g transform="translate(739.66)"><rect/><text y="5.9">Po</text><text y="10.6">216</text></g>
<g transform="translate(754.34)"><rect/><text y="5.9">Po</text><text y="10.6">217</text></g>
<g transform="translate(769.02)"><rect/><text y="5.9">Po</text><text y="10.6">218</text></g>
<g transform="translate(783.70)"><rect/><text y="5.9">Po</text><text y="10.6">219</text></g>
<g transform="translate(798.38)"><rect/><text y="5.9">Po</text><text y="10.6">220</text></g>
</g>
<g id="z85" transform="translate(0,162.6)">
<g class="b" transform="translate(402.02)"><rect/><text y="5.9">At</text><text y="10.6">194</text></g>
<g class="b" transform="translate(416.70)"><rect/><text y="5.9">At</text><text y="10.6">195</text></g>
<g transform="translate(431.38)"><rect/><text y="5.9">At</text><text y="10.6">196</text></g>
<g class="b" transform="translate(446.06)"><rect/><text y="5.9">At</text><text y="10.6">197</text></g>
<g transform="translate(460.74)"><rect/><text y="5.9">At</text><text y="10.6">198</text></g>
<g class="b" transform="translate(475.42)"><rect/><text y="5.9">At</text><text y="10.6">199</text></g>
<g class="b" transform="translate(490.10)"><rect/><text y="5.9">At</text><text y="10.6">200</text></g>
<g class="b" transform="translate(504.78)"><rect/><text y="5.9">At</text><text y="10.6">201</text></g>
<g transform="translate(519.46)"><rect/><text y="5.9">At</text><text y="10.6">202</text></g>
<g transform="translate(534.14)"><rect/><text y="5.9">At</text><text y="10.6">203</text></g>
<g transform="translate(548.82)"><rect/><text y="5.9">At</text><text y="10.6">204</text></g>
<g transform="translate(563.50)"><rect/><text y="5.9">At</text><text y="10.6">205</text></g>
<g transform="translate(578.18)"><rect/><text y="5.9">At</text><text y="10.6">206</text></g>
<g transform="translate(592.86)"><rect/><text y="5.9">At</text><text y="10.6">207</text></g>
<g transform="translate(607.54)"><rect/><text y="5.9">At</text><text y="10.6">208</text></g>
<g transform="translate(622.22)"><rect/><text y="5.9">At</text><text y="10.6">209</text></g>
<g transform="translate(636.90)"><rect/><text y="5.9">At</text><text y="10.6">210</text></g>
<g transform="translate(651.58)"><rect/><text y="5.9">At</text><text y="10.6">211</text></g>
<g transform="translate(666.26)"><rect/><text y="5.9">At</text><text y="10.6">212</text></g>
<g transform="translate(680.94)"><rect/><text y="5.9">At</text><text y="10.6">213</text></g>
<g transform="translate(695.62)"><rect/><text y="5.9">At</text><text y="10.6">214</text></g>
<g transform="translate(710.30)"><rect/><text y="5.9">At</text><text y="10.6">215</text></g>
<g transform="translate(724.98)"><rect/><text y="5.9">At</text><text y="10.6">216</text></g>
<g transform="translate(739.66)"><rect/><text y="5.9">At</text><text y="10.6">217</text></g>
<g transform="translate(754.34)"><rect/><text y="5.9">At</text><text y="10.6">218</text></g>
<g class="b" transform="translate(769.02)"><rect/><text y="5.9">At</text><text y="10.6">219</text></g>
<g class="b" transform="translate(783.70)"><rect/><text y="5.9">At</text><text y="10.6">220</text></g>
<g transform="translate(798.38)"><rect/><text y="5.9">At</text><text y="10.6">221</text></g>
<g transform="translate(813.06)"><rect/><text y="5.9">At</text><text y="10.6">222</text></g>
<g transform="translate(827.74)"><rect/><text y="5.9">At</text><text y="10.6">223</text></g>
</g>
<g id="z86" transform="translate(0,147.9)">
<g transform="translate(416.70)"><rect/><text y="5.9">Rn</text><text y="10.6">196</text></g>
<g transform="translate(431.38)"><rect/><text y="5.9">Rn</text><text y="10.6">197</text></g>
<g transform="translate(446.06)"><rect/><text y="5.9">Rn</text><text y="10.6">198</text></g>
<g transform="translate(460.74)"><rect/><text y="5.9">Rn</text><text y="10.6">199</text></g>
<g transform="translate(475.42)"><rect/><text y="5.9">Rn</text><text y="10.6">200</text></g>
<g transform="translate(490.10)"><rect/><text y="5.9">Rn</text><text y="10.6">201</text></g>
<g transform="translate(504.78)"><rect/><text y="5.9">Rn</text><text y="10.6">202</text></g>
<g transform="translate(519.46)"><rect/><text y="5.9">Rn</text><text y="10.6">203</text></g>
<g transform="translate(534.14)"><rect/><text y="5.9">Rn</text><text y="10.6">204</text></g>
<g class="b" transform="translate(548.82)"><rect/><text y="5.9">Rn</text><text y="10.6">205</text></g>
<g transform="translate(563.50)"><rect/><text y="5.9">Rn</text><text y="10.6">206</text></g>
<g transform="translate(578.18)"><rect/><text y="5.9">Rn</text><text y="10.6">207</text></g>
<g transform="translate(592.86)"><rect/><text y="5.9">Rn</text><text y="10.6">208</text></g>
<g transform="translate(607.54)"><rect/><text y="5.9">Rn</text><text y="10.6">209</text></g>
<g class="b" transform="translate(622.22)"><rect/><text y="5.9">Rn</text><text y="10.6">210</text></g>
<g transform="translate(636.90)"><rect/><text y="5.9">Rn</text><text y="10.6">211</text></g>
<g transform="translate(651.58)"><rect/><text y="5.9">Rn</text><text y="10.6">212</text></g>
<g transform="translate(666.26)"><rect/><text y="5.9">Rn</text><text y="10.6">213</text></g>
<g transform="translate(680.94)"><rect/><text y="5.9">Rn</text><text y="10.6">214</text></g>
<g transform="translate(695.62)"><rect/><text y="5.9">Rn</text><text y="10.6">215</text></g>
<g transform="translate(710.30)"><rect/><text y="5.9">Rn</text><text y="10.6">216</text></g>
<g transform="translate(724.98)"><rect/><text y="5.9">Rn</text><text y="10.6">217</text></g>
<g transform="translate(739.66)"><rect/><text y="5.9">Rn</text><text y="10.6">218</text></g>
<g transform="translate(754.34)"><rect/><text y="5.9">Rn</text><text y="10.6">219</text></g>
<g transform="translate(769.02)"><rect/><text y="5.9">Rn</text><text y="10.6">220</text></g>
<g transform="translate(783.70)"><rect/><text y="5.9">Rn</text><text y="10.6">221</text></g>
<g transform="translate(798.38)"><rect/><text y="5.9">Rn</text><text y="10.6">222</text></g>
<g transform="translate(813.06)"><rect/><text y="5.9">Rn</text><text y="10.6">223</text></g>
<g transform="translate(827.74)"><rect/><text y="5.9">Rn</text><text y="10.6">224</text></g>
<g transform="translate(842.42)"><rect/><text y="5.9">Rn</text><text y="10.6">225</text></g>
<g transform="translate(857.10)"><rect/><text y="5.9">Rn</text><text y="10.6">226</text></g>
<g transform="translate(871.78)"><rect/><text y="5.9">Rn</text><text y="10.6">227</text></g>
<g transform="translate(886.46)"><rect/><text y="5.9">Rn</text><text y="10.6">228</text></g>
</g>
<g id="z87" transform="translate(0,133.2)">
<g transform="translate(460.74)"><rect/><text y="5.9">Fr</text><text y="10.6">200</text></g>
<g class="b" transform="translate(475.42)"><rect/><text y="5.9">Fr</text><text y="10.6">201</text></g>
<g transform="translate(490.10)"><rect/><text y="5.9">Fr</text><text y="10.6">202</text></g>
<g class="r" transform="translate(504.78)"><rect/><text y="5.9">Fr</text><text y="10.6">203</text></g>
<g class="b" transform="translate(519.46)"><rect/><text y="5.9">Fr</text><text y="10.6">204</text></g>
<g class="r" transform="translate(534.14)"><rect/><text y="5.9">Fr</text><text y="10.6">205</text></g>
<g transform="translate(548.82)"><rect/><text y="5.9">Fr</text><text y="10.6">206</text></g>
<g transform="translate(563.50)"><rect/><text y="5.9">Fr</text><text y="10.6">207</text></g>
<g transform="translate(578.18)"><rect/><text y="5.9">Fr</text><text y="10.6">208</text></g>
<g transform="translate(592.86)"><rect/><text y="5.9">Fr</text><text y="10.6">209</text></g>
<g transform="translate(607.54)"><rect/><text y="5.9">Fr</text><text y="10.6">210</text></g>
<g transform="translate(622.22)"><rect/><text y="5.9">Fr</text><text y="10.6">211</text></g>
<g transform="translate(636.90)"><rect/><text y="5.9">Fr</text><text y="10.6">212</text></g>
<g transform="translate(651.58)"><rect/><text y="5.9">Fr</text><text y="10.6">213</text></g>
<g transform="translate(666.26)"><rect/><text y="5.9">Fr</text><text y="10.6">214</text></g>
<g transform="translate(680.94)"><rect/><text y="5.9">Fr</text><text y="10.6">215</text></g>
<g transform="translate(695.62)"><rect/><text y="5.9">Fr</text><text y="10.6">216</text></g>
<g transform="translate(710.30)"><rect/><text y="5.9">Fr</text><text y="10.6">217</text></g>
<g transform="translate(724.98)"><rect/><text y="5.9">Fr</text><text y="10.6">218</text></g>
<g transform="translate(739.66)"><rect/><text y="5.9">Fr</text><text y="10.6">219</text></g>
<g transform="translate(754.34)"><rect/><text y="5.9">Fr</text><text y="10.6">220</text></g>
<g transform="translate(769.02)"><rect/><text y="5.9">Fr</text><text y="10.6">221</text></g>
<g transform="translate(783.70)"><rect/><text y="5.9">Fr</text><text y="10.6">222</text></g>
<g transform="translate(798.38)"><rect/><text y="5.9">Fr</text><text y="10.6">223</text></g>
<g transform="translate(813.06)"><rect/><text y="5.9">Fr</text><text y="10.6">224</text></g>
<g transform="translate(827.74)"><rect/><text y="5.9">Fr</text><text y="10.6">225</text></g>
<g transform="translate(842.42)"><rect/><text y="5.9">Fr</text><text y="10.6">226</text></g>
<g transform="translate(857.10)"><rect/><text y="5.9">Fr</text><text y="10.6">227</text></g>
<g transform="translate(871.78)"><rect/><text y="5.9">Fr</text><text y="10.6">228</text></g>
<g class="r" transform="translate(886.46)"><rect/><text y="5.9">Fr</text><text y="10.6">229</text></g>
<g transform="translate(901.14)"><rect/><text y="5.9">Fr</text><text y="10.6">230</text></g>
<g transform="translate(915.82)"><rect/><text y="5.9">Fr</text><text y="10.6">231</text></g>
</g>
<g id="z88" transform="translate(0,118.5)">
<g transform="translate(475.42)"><rect/><text y="5.9">Ra</text><text y="10.6">202</text></g>
<g transform="translate(490.10)"><rect/><text y="5.9">Ra</text><text y="10.6">203</text></g>
<g transform="translate(504.78)"><rect/><text y="5.9">Ra</text><text y="10.6">204</text></g>
<g transform="translate(519.46)"><rect/><text y="5.9">Ra</text><text y="10.6">205</text></g>
<g transform="translate(534.14)"><rect/><text y="5.9">Ra</text><text y="10.6">206</text></g>
<g transform="translate(548.82)"><rect/><text y="5.9">Ra</text><text y="10.6">207</text></g>
<g transform="translate(563.50)"><rect/><text y="5.9">Ra</text><text y="10.6">208</text></g>
<g class="b" transform="translate(578.18)"><rect/><text y="5.9">Ra</text><text y="10.6">209</text></g>
<g transform="translate(592.86)"><rect/><text y="5.9">Ra</text><text y="10.6">210</text></g>
<g transform="translate(607.54)"><rect/><text y="5.9">Ra</text><text y="10.6">211</text></g>
<g transform="translate(622.22)"><rect/><text y="5.9">Ra</text><text y="10.6">212</text></g>
<g transform="translate(636.90)"><rect/><text y="5.9">Ra</text><text y="10.6">213</text></g>
<g class="r" transform="translate(651.58)"><rect/><text y="5.9">Ra</text><text y="10.6">214</text></g>
<g transform="translate(666.26)"><rect/><text y="5.9">Ra</text><text y="10.6">215</text></g>
<g transform="translate(680.94)"><rect/><text y="5.9">Ra</text><text y="10.6">216</text></g>
<g transform="translate(695.62)"><rect/><text y="5.9">Ra</text><text y="10.6">217</text></g>
<g transform="translate(710.30)"><rect/><text y="5.9">Ra</text><text y="10.6">218</text></g>
<g transform="translate(724.98)"><rect/><text y="5.9">Ra</text><text y="10.6">219</text></g>
<g transform="translate(739.66)"><rect/><text y="5.9">Ra</text><text y="10.6">220</text></g>
<g transform="translate(754.34)"><rect/><text y="5.9">Ra</text><text y="10.6">221</text></g>
<g transform="translate(769.02)"><rect/><text y="5.9">Ra</text><text y="10.6">222</text></g>
<g transform="translate(783.70)"><rect/><text y="5.9">Ra</text><text y="10.6">223</text></g>
<g transform="translate(798.38)"><rect/><text y="5.9">Ra</text><text y="10.6">224</text></g>
<g transform="translate(813.06)"><rect/><text y="5.9">Ra</text><text y="10.6">225</text></g>
<g transform="translate(827.74)"><rect/><text y="5.9">Ra</text><text y="10.6">226</text></g>
<g transform="translate(842.42)"><rect/><text y="5.9">Ra</text><text y="10.6">227</text></g>
<g transform="translate(857.10)"><rect/><text y="5.9">Ra</text><text y="10.6">228</text></g>
<g class="r" transform="translate(871.78)"><rect/><text y="5.9">Ra</text><text y="10.6">229</text></g>
<g class="r" transform="translate(886.46)"><rect/><text y="5.9">Ra</text><text y="10.6">230</text></g>
<g transform="translate(901.14)"><rect/><text y="5.9">Ra</text><text y="10.6">231</text></g>
<g transform="translate(915.82)"><rect/><text y="5.9">Ra</text><text y="10.6">232</text></g>
<g transform="translate(930.50)"><rect/><text y="5.9">Ra</text><text y="10.6">233</text></g>
<g transform="translate(945.18)"><rect/><text y="5.9">Ra</text><text y="10.6">234</text></g>
</g>
<g id="z89" transform="translate(0,103.8)">
<g class="b" transform="translate(534.14)"><rect/><text y="5.9">Ac</text><text y="10.6">207</text></g>
<g class="b" transform="translate(548.82)"><rect/><text y="5.9">Ac</text><text y="10.6">208</text></g>
<g class="b" transform="translate(563.50)"><rect/><text y="5.9">Ac</text><text y="10.6">209</text></g>
<g transform="translate(578.18)"><rect/><text y="5.9">Ac</text><text y="10.6">210</text></g>
<g transform="translate(592.86)"><rect/><text y="5.9">Ac</text><text y="10.6">211</text></g>
<g transform="translate(607.54)"><rect/><text y="5.9">Ac</text><text y="10.6">212</text></g>
<g transform="translate(622.22)"><rect/><text y="5.9">Ac</text><text y="10.6">213</text></g>
<g transform="translate(636.90)"><rect/><text y="5.9">Ac</text><text y="10.6">214</text></g>
<g transform="translate(651.58)"><rect/><text y="5.9">Ac</text><text y="10.6">215</text></g>
<g transform="translate(666.26)"><rect/><text y="5.9">Ac</text><text y="10.6">216</text></g>
<g transform="translate(680.94)"><rect/><text y="5.9">Ac</text><text y="10.6">217</text></g>
<g transform="translate(695.62)"><rect/><text y="5.9">Ac</text><text y="10.6">218</text></g>
<g transform="translate(710.30)"><rect/><text y="5.9">Ac</text><text y="10.6">219</text></g>
<g transform="translate(724.98)"><rect/><text y="5.9">Ac</text><text y="10.6">220</text></g>
<g transform="translate(739.66)"><rect/><text y="5.9">Ac</text><text y="10.6">221</text></g>
<g transform="translate(754.34)"><rect/><text y="5.9">Ac</text><text y="10.6">222</text></g>
<g transform="translate(769.02)"><rect/><text y="5.9">Ac</text><text y="10.6">223</text></g>
<g transform="translate(783.70)"><rect/><text y="5.9">Ac</text><text y="10.6">224</text></g>
<g transform="translate(798.38)"><rect/><text y="5.9">Ac</text><text y="10.6">225</text></g>
<g transform="translate(813.06)"><rect/><text y="5.9">Ac</text><text y="10.6">226</text></g>
<g transform="translate(827.74)"><rect/><text y="5.9">Ac</text><text y="10.6">227</text></g>
<g transform="translate(842.42)"><rect/><text y="5.9">Ac</text><text y="10.6">228</text></g>
<g class="b" transform="translate(857.10)"><rect/><text y="5.9">Ac</text><text y="10.6">229</text></g>
<g transform="translate(871.78)"><rect/><text y="5.9">Ac</text><text y="10.6">230</text></g>
<g transform="translate(886.46)"><rect/><text y="5.9">Ac</text><text y="10.6">231</text></g>
<g transform="translate(901.14)"><rect/><text y="5.9">Ac</text><text y="10.6">232</text></g>
<g transform="translate(915.82)"><rect/><text y="5.9">Ac</text><text y="10.6">233</text></g>
<g transform="translate(930.50)"><rect/><text y="5.9">Ac</text><text y="10.6">234</text></g>
<g transform="translate(945.18)"><rect/></g>
</g>
<g id="z90" transform="translate(0,89.1)">
<g transform="translate(563.50)"><rect/><text y="5.9">Th</text><text y="10.6">210</text></g>
<g transform="translate(578.18)"><rect/><text y="5.9">Th</text><text y="10.6">211</text></g>
<g transform="translate(592.86)"><rect/><text y="5.9">Th</text><text y="10.6">212</text></g>
<g class="b" transform="translate(607.54)"><rect/><text y="5.9">Th</text><text y="10.6">213</text></g>
<g transform="translate(622.22)"><rect/><text y="5.9">Th</text><text y="10.6">214</text></g>
<g transform="translate(636.90)"><rect/><text y="5.9">Th</text><text y="10.6">215</text></g>
<g transform="translate(651.58)"><rect/><text y="5.9">Th</text><text y="10.6">216</text></g>
<g transform="translate(666.26)"><rect/><text y="5.9">Th</text><text y="10.6">217</text></g>
<g class="b" transform="translate(680.94)"><rect/><text y="5.9">Th</text><text y="10.6">218</text></g>
<g transform="translate(695.62)"><rect/><text y="5.9">Th</text><text y="10.6">219</text></g>
<g transform="translate(710.30)"><rect/><text y="5.9">Th</text><text y="10.6">220</text></g>
<g transform="translate(724.98)"><rect/><text y="5.9">Th</text><text y="10.6">221</text></g>
<g transform="translate(739.66)"><rect/><text y="5.9">Th</text><text y="10.6">222</text></g>
<g transform="translate(754.34)"><rect/><text y="5.9">Th</text><text y="10.6">223</text></g>
<g transform="translate(769.02)"><rect/><text y="5.9">Th</text><text y="10.6">224</text></g>
<g transform="translate(783.70)"><rect/><text y="5.9">Th</text><text y="10.6">225</text></g>
<g transform="translate(798.38)"><rect/><text y="5.9">Th</text><text y="10.6">226</text></g>
<g transform="translate(813.06)"><rect/><text y="5.9">Th</text><text y="10.6">227</text></g>
<g transform="translate(827.74)"><rect/><text y="5.9">Th</text><text y="10.6">228</text></g>
<g transform="translate(842.42)"><rect/><text y="5.9">Th</text><text y="10.6">229</text></g>
<g transform="translate(857.10)"><rect/><text y="5.9">Th</text><text y="10.6">230</text></g>
<g transform="translate(871.78)"><rect/><text y="5.9">Th</text><text y="10.6">231</text></g>
<g class="k" transform="translate(886.46)"><rect/><text y="5.9">Th</text><text y="10.6">232</text></g>
<g transform="translate(901.14)"><rect/><text y="5.9">Th</text><text y="10.6">233</text></g>
<g transform="translate(915.82)"><rect/><text y="5.9">Th</text><text y="10.6">234</text></g>
<g transform="translate(930.50)"><rect/><text y="5.9">Th</text><text y="10.6">235</text></g>
<g transform="translate(945.18)"><rect/><text y="5.9">Th</text><text y="10.6">236</text></g>
<g transform="translate(959.86)"><rect/><text y="5.9">Th</text><text y="10.6">237</text></g>
</g>
<g id="z91" transform="translate(0,74.4)">
<g class="b" transform="translate(578.18)"><rect/><text y="5.9">Pa</text><text y="10.6">212</text></g>
<g class="b" transform="translate(592.86)"><rect/><text y="5.9">Pa</text><text y="10.6">213</text></g>
<g transform="translate(607.54)"><rect/><text y="5.9">Pa</text><text y="10.6">214</text></g>
<g transform="translate(622.22)"><rect/><text y="5.9">Pa</text><text y="10.6">215</text></g>
<g transform="translate(636.90)"><rect/><text y="5.9">Pa</text><text y="10.6">216</text></g>
<g transform="translate(651.58)"><rect/><text y="5.9">Pa</text><text y="10.6">217</text></g>
<g transform="translate(666.26)"><rect/><text y="5.9">Pa</text><text y="10.6">218</text></g>
<g transform="translate(680.94)"><rect/><text y="5.9">Pa</text><text y="10.6">219</text></g>
<g transform="translate(695.62)"><rect/><text y="5.9">Pa</text><text y="10.6">220</text></g>
<g transform="translate(710.30)"><rect/><text y="5.9">Pa</text><text y="10.6">221</text></g>
<g transform="translate(724.98)"><rect/><text y="5.9">Pa</text><text y="10.6">222</text></g>
<g transform="translate(739.66)"><rect/><text y="5.9">Pa</text><text y="10.6">223</text></g>
<g transform="translate(754.34)"><rect/><text y="5.9">Pa</text><text y="10.6">224</text></g>
<g transform="translate(769.02)"><rect/><text y="5.9">Pa</text><text y="10.6">225</text></g>
<g transform="translate(783.70)"><rect/><text y="5.9">Pa</text><text y="10.6">226</text></g>
<g transform="translate(798.38)"><rect/><text y="5.9">Pa</text><text y="10.6">227</text></g>
<g transform="translate(813.06)"><rect/><text y="5.9">Pa</text><text y="10.6">228</text></g>
<g transform="translate(827.74)"><rect/><text y="5.9">Pa</text><text y="10.6">229</text></g>
<g transform="translate(842.42)"><rect/><text y="5.9">Pa</text><text y="10.6">230</text></g>
<g transform="translate(857.10)"><rect/><text y="5.9">Pa</text><text y="10.6">231</text></g>
<g transform="translate(871.78)"><rect/><text y="5.9">Pa</text><text y="10.6">232</text></g>
<g transform="translate(886.46)"><rect/><text y="5.9">Pa</text><text y="10.6">233</text></g>
<g transform="translate(901.14)"><rect/><text y="5.9">Pa</text><text y="10.6">234</text></g>
<g transform="translate(915.82)"><rect/><text y="5.9">Pa</text><text y="10.6">235</text></g>
<g transform="translate(930.50)"><rect/><text y="5.9">Pa</text><text y="10.6">236</text></g>
<g transform="translate(945.18)"><rect/><text y="5.9">Pa</text><text y="10.6">237</text></g>
<g transform="translate(959.86)"><rect/><text y="5.9">Pa</text><text y="10.6">238</text></g>
</g>
<g id="z92" transform="translate(0,59.7)">
<g transform="translate(651.58)"><rect/><text y="5.9">U</text><text y="10.6">218</text></g>
<g transform="translate(666.26)"><rect/><text y="5.9">U</text><text y="10.6">219</text></g>
<g transform="translate(680.94)"><rect/></g>
<g transform="translate(695.62)"><rect/></g>
<g class="b" transform="translate(710.30)"><rect/><text y="5.9">U</text><text y="10.6">222</text></g>
<g transform="translate(724.98)"><rect/><text y="5.9">U</text><text y="10.6">223</text></g>
<g transform="translate(739.66)"><rect/><text y="5.9">U</text><text y="10.6">224</text></g>
<g transform="translate(754.34)"><rect/><text y="5.9">U</text><text y="10.6">225</text></g>
<g transform="translate(769.02)"><rect/><text y="5.9">U</text><text y="10.6">226</text></g>
<g transform="translate(783.70)"><rect/><text y="5.9">U</text><text y="10.6">227</text></g>
<g transform="translate(798.38)"><rect/><text y="5.9">U</text><text y="10.6">228</text></g>
<g transform="translate(813.06)"><rect/><text y="5.9">U</text><text y="10.6">229</text></g>
<g transform="translate(827.74)"><rect/><text y="5.9">U</text><text y="10.6">230</text></g>
<g transform="translate(842.42)"><rect/><text y="5.9">U</text><text y="10.6">231</text></g>
<g transform="translate(857.10)"><rect/><text y="5.9">U</text><text y="10.6">232</text></g>
<g transform="translate(871.78)"><rect/><text y="5.9">U</text><text y="10.6">233</text></g>
<g class="k" transform="translate(886.46)"><rect/><text y="5.9">U</text><text y="10.6">234</text></g>
<g class="k" transform="translate(901.14)"><rect/><text y="5.9">U</text><text y="10.6">235</text></g>
<g transform="translate(915.82)"><rect/><text y="5.9">U</text><text y="10.6">236</text></g>
<g transform="translate(930.50)"><rect/><text y="5.9">U</text><text y="10.6">237</text></g>
<g class="k" transform="translate(945.18)"><rect/><text y="5.9">U</text><text y="10.6">238</text></g>
<g transform="translate(959.86)"><rect/><text y="5.9">U</text><text y="10.6">239</text></g>
<g transform="translate(974.54)"><rect/><text y="5.9">U</text><text y="10.6">240</text></g>
<g transform="translate(989.22)"><rect/></g>
<g transform="translate(1003.90)"><rect/><text y="5.9">U</text><text y="10.6">242</text></g>
</g>
<g id="z93" transform="translate(0,45)">
<g transform="translate(739.66)"><rect/><text y="5.9">Np</text><text y="10.6">225</text></g>
<g transform="translate(754.34)"><rect/><text y="5.9">Np</text><text y="10.6">226</text></g>
<g transform="translate(769.02)"><rect/><text y="5.9">Np</text><text y="10.6">227</text></g>
<g transform="translate(783.70)"><rect/><text y="5.9">Np</text><text y="10.6">228</text></g>
<g transform="translate(798.38)"><rect/><text y="5.9">Np</text><text y="10.6">229</text></g>
<g transform="translate(813.06)"><rect/><text y="5.9">Np</text><text y="10.6">230</text></g>
<g transform="translate(827.74)"><rect/><text y="5.9">Np</text><text y="10.6">231</text></g>
<g transform="translate(842.42)"><rect/><text y="5.9">Np</text><text y="10.6">232</text></g>
<g transform="translate(857.10)"><rect/><text y="5.9">Np</text><text y="10.6">233</text></g>
<g transform="translate(871.78)"><rect/><text y="5.9">Np</text><text y="10.6">234</text></g>
<g transform="translate(886.46)"><rect/><text y="5.9">Np</text><text y="10.6">235</text></g>
<g transform="translate(901.14)"><rect/><text y="5.9">Np</text><text y="10.6">236</text></g>
<g transform="translate(915.82)"><rect/><text y="5.9">Np</text><text y="10.6">237</text></g>
<g transform="translate(930.50)"><rect/><text y="5.9">Np</text><text y="10.6">238</text></g>
<g transform="translate(945.18)"><rect/><text y="5.9">Np</text><text y="10.6">239</text></g>
<g transform="translate(959.86)"><rect/><text y="5.9">Np</text><text y="10.6">240</text></g>
<g transform="translate(974.54)"><rect/><text y="5.9">Np</text><text y="10.6">241</text></g>
<g transform="translate(989.22)"><rect/><text y="5.9">Np</text><text y="10.6">242</text></g>
<g transform="translate(1003.90)"><rect/><text y="5.9">Np</text><text y="10.6">243</text></g>
<g transform="translate(1018.58)"><rect/><text y="5.9">Np</text><text y="10.6">244</text></g>
</g>
</g>
<g id="magic" class="magic">
<line x1="180" y1="206.7" x2="845" y2="206.7"/>
<line x1="180" y1="221.4" x2="845" y2="221.4"/>
<line x1="644.24" y1="18" x2="644.24" y2="313"/>
<line x1="658.92" y1="18" x2="658.92" y2="313"/>
</g>
<g id="z-labels" class="lbl">
<text x="5" y="348.6">73</text>
<text x="20.34" y="333.9">74</text>
<text x="35.02" y="319.2">75</text>
<text x="49.70" y="304.5">76</text>
<text x="79.06" y="289.8">77</text>
<text x="79.06" y="275.1">78</text>
<text x="137.78" y="260.4">79</text>
<text x="167.14" y="245.7">80</text>
<text x="225.86" y="231">81</text>
<text x="284.58" y="201.6">83</text>
<text x="343.30" y="186.9">84</text>
<text x="387.34" y="172.2">85</text>
<text x="402.02" y="157.5">86</text>
<text x="446.06" y="142.8">87</text>
<text x="460.74" y="128.1">88</text>
<text x="519.46" y="113.4">89</text>
<text x="548.82" y="98.7">90</text>
<text x="563.50" y="84">91</text>
<text x="636.90" y="69.3">92</text>
<text x="724.98" y="54.6">93</text>
</g>
<g id="n-labels" class="lbl">
<text x="35.02" y="366.5">84</text>
<text x="64.38" y="366.5">86</text>
<text x="93.74" y="366.5">88</text>
<text x="123.10" y="366.5">90</text>
<text x="152.46" y="366.5">92</text>
<text x="181.82" y="366.5">94</text>
<text x="211.18" y="366.5">96</text>
<text x="240.54" y="366.5">98</text>
<text x="269.90" y="366.5">100</text>
<text x="299.26" y="366.5">102</text>
<text x="328.62" y="366.5">104</text>
<text x="357.98" y="366.5">106</text>
<text x="387.34" y="366.5">108</text>
<text x="416.70" y="366.5">110</text>
<text x="446.06" y="366.5">112</text>
<text x="475.42" y="349.8">114</text>
<text x="504.78" y="349.8">116</text>
<text x="534.14" y="319">118</text>
<text x="563.50" y="319">120</text>
<text x="592.86" y="289.4">122</text>
<text x="622.22" y="289.4">124</text>
<text x="680.94" y="260">128</text>
<text x="710.30" y="260">130</text>
<text x="739.66" y="230.8">132</text>
<text x="769.02" y="216">134</text>
<text x="798.38" y="201.5">136</text>
<text x="827.74" y="187">138</text>
<text x="857.10" y="172.3">140</text>
<text x="886.46" y="172.3">142</text>
<text x="915.82" y="157.5">144</text>
<text x="945.18" y="142.8">146</text>
</g>
<text class="big" x="105" y="218"><tspan font-style="italic">Z</tspan> = 82</text>
<text class="big" x="619" y="336"><tspan font-style="italic">N</tspan> = 126</text>
</svg>
